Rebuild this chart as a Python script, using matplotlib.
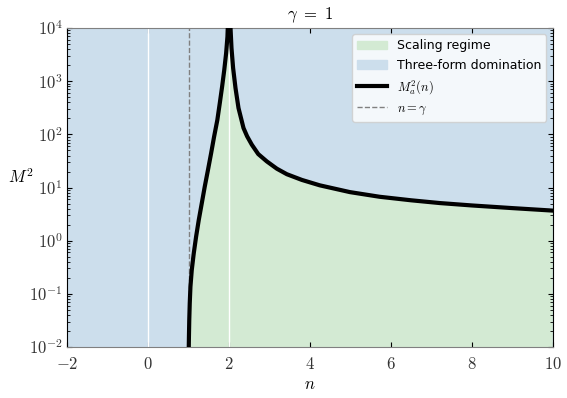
import numpy as np
import matplotlib
matplotlib.use('Agg')
import matplotlib.pyplot as plt
from matplotlib.patches import Patch
from matplotlib.lines import Line2D

plt.rcParams['mathtext.fontset'] = 'cm'
plt.rcParams['font.family'] = 'DejaVu Sans'

# curve M_a^2(n) (gamma = 1)
# left branch: from n = gamma up to the pole at n = 2
n_left = [1.0, 1.003, 1.007, 1.015, 1.027, 1.044, 1.077, 1.126, 1.184, 1.250,
          1.324, 1.398, 1.477, 1.555, 1.629, 1.709, 1.769, 1.827, 1.880, 1.926,
          1.959, 1.975, 1.988, 1.997]
m2_left = [1e-4, 0.0102, 0.0157, 0.0322, 0.0664, 0.136, 0.281, 0.578, 1.19, 2.45,
           5.04, 10.4, 21.3, 44.0, 90.4, 186.0, 383.0, 789.0, 1622.0, 3342.0,
           6871.0, 1.5e4, 1e5, 1e7]
# right branch: from the pole at n = 2 out to n = 10
n_right = [2.005, 2.015, 2.035, 2.059, 2.099, 2.158, 2.232, 2.356, 2.445, 2.561,
           2.72, 2.932, 3.18, 3.427, 3.798, 4.24, 4.985, 5.72, 6.5, 7.21,
           8.0, 9.0, 10.0]
m2_right = [1e7, 1e5, 1e4, 4200.0, 1770.0, 743.0, 313.0, 131.5, 92.0, 64.0,
            42.6, 31.0, 22.6, 17.8, 13.9, 11.0, 8.2, 6.7, 5.75, 5.1,
            4.6, 4.1, 3.68]

gamma = 1
x_ticks = [-2, 0, 2, 4, 6, 8, 10]
y_ticks = [1e-2, 1e-1, 1e0, 1e1, 1e2, 1e3, 1e4]
y_tick_labels = [r'$10^{-2}$', r'$10^{-1}$', r'$10^{0}$', r'$10^{1}$',
                 r'$10^{2}$', r'$10^{3}$', r'$10^{4}$']

c_green = '#d3ead3'
c_blue = '#ccdeec'

n_vals = n_left + n_right
m2_vals = m2_left + m2_right

fig = plt.figure(figsize=(5.67, 3.98), dpi=100)
ax = fig.add_axes([0.1187, 0.1281, 0.8561, 0.8015])

ax.set_yscale('log')
ax.set_xlim(-2, 10)
ax.set_ylim(1e-2, 1e4)

# fondo: dominio de la tres-forma
ax.axvspan(-2, 10, color=c_blue, zorder=0, lw=0)
# region de escalamiento bajo la curva
ax.fill_between(n_vals, 1e-4, m2_vals, color=c_green, lw=0, zorder=1)

ax.axvline(0, color='white', lw=1, zorder=2)
ax.axvline(2, color='white', lw=1, zorder=2)
ax.axvline(gamma, color='0.5', lw=1, ls='--', zorder=3)

ax.plot(n_vals, m2_vals, color='black', lw=3, zorder=4, solid_joinstyle='round')

ax.set_xticks(x_ticks)
ax.set_xticklabels([r'$%d$' % t for t in x_ticks], fontsize=12, color='#333333')
ax.set_yticks(y_ticks)
ax.set_yticklabels(y_tick_labels, fontsize=12, color='#333333')
ax.tick_params(which='both', direction='in', top=True, right=True)
ax.tick_params(which='major', length=3.5, width=0.8)
ax.tick_params(which='minor', length=2, width=0.6)
ax.tick_params(axis='x', pad=6)

ax.spines['top'].set_color('0.5')
ax.spines['bottom'].set_color('0.5')

ax.set_title(r'$\gamma\ =\ 1$', fontsize=12, pad=6)
ax.set_xlabel(r'$n$', fontsize=12, labelpad=1)
ax.set_ylabel(r'$M^2$', fontsize=12, rotation=0, ha='center', va='center')
ax.yaxis.set_label_coords(-0.095, 0.53)

handles = [Patch(color=c_green, label='Scaling regime'),
           Patch(color=c_blue, label='Three-form domination'),
           Line2D([], [], color='black', lw=3, label=r'$M_a^2(n)$'),
           Line2D([], [], color='0.5', lw=1, ls='--', label=r'$n=\gamma$')]
ax.legend(handles=handles, loc='upper right', fontsize=9, handlelength=2.4,
          framealpha=0.8, borderaxespad=0.5)

fig.savefig('out.png', dpi=100)
